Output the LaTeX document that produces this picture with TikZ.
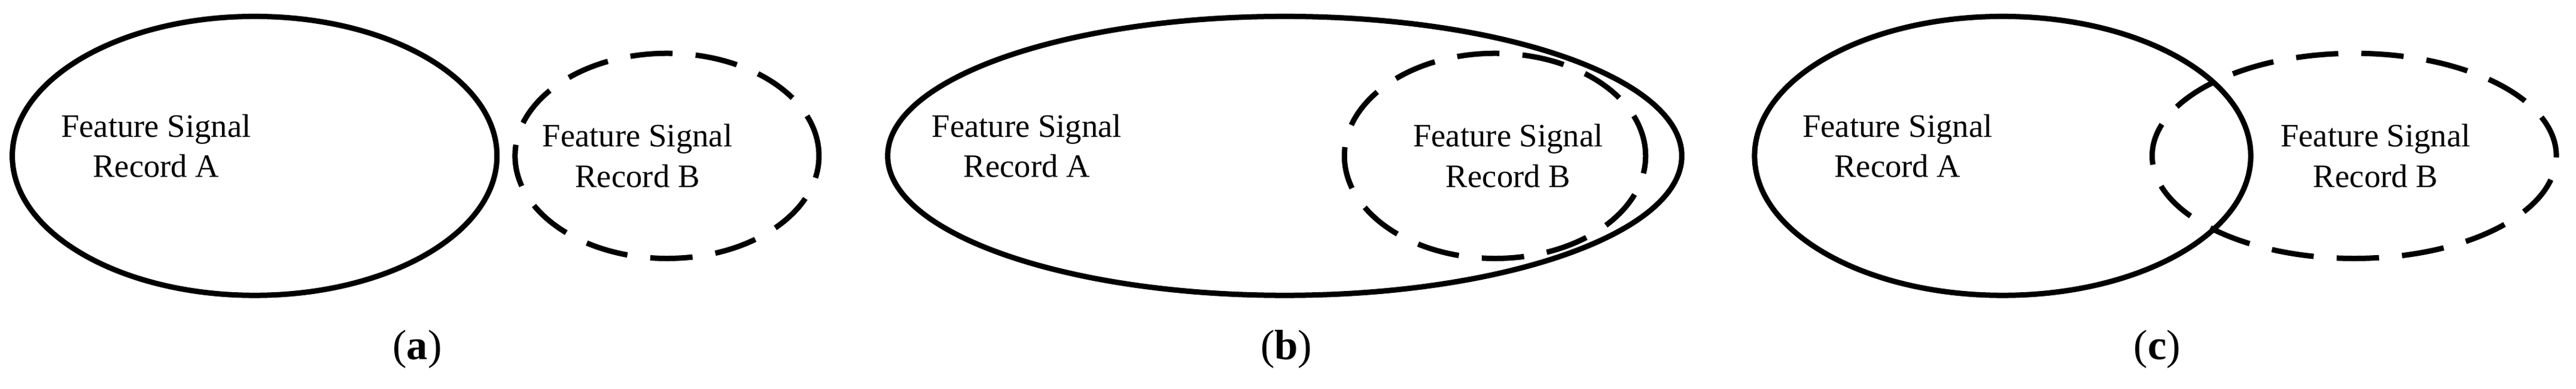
\documentclass[tikz,border=0pt]{standalone}
\usepackage{fontspec}
\setmainfont{Liberation Serif}
\usetikzlibrary{shapes.geometric}
\begin{document}
\begin{tikzpicture}[
    x=0.03cm, y=-0.03cm,
    record/.style={
        draw,
        ellipse,
        line width=2.8pt,
        inner sep=0pt
    },
    record b/.style={
        record,
        dash pattern=on 22pt off 12pt
    },
    record text/.style={
        align=center,
        inner sep=0pt,
        font=\fontsize{17}{21}\selectfont
    },
    caption/.style={
        font=\fontsize{22}{24}\selectfont
    },
    ]
    \useasboundingbox (0,0) rectangle (1568,237);
    % (a)
    \node [record, minimum width=8.85cm, minimum height=5.1cm] (ea) at (155,95) {};
    \node [record b, minimum width=5.55cm, minimum height=3.75cm] (eb) at (406,95) {};
    \node [record text] (ta) at (95,89) {Feature Signal\\Record A};
    \node [record text] (tb) at (388,95) {Feature Signal\\Record B};
    \node [caption] (ca) at (254,213) {(\textbf{a})};
    % (b)
    \node [record, minimum width=14.5cm, minimum height=5.1cm] (fa) at (782,95) {};
    \node [record b, minimum width=5.5cm, minimum height=3.75cm] (fb) at (910,95) {};
    \node [record text] (sa) at (625,89) {Feature Signal\\Record A};
    \node [record text] (sb) at (918,95) {Feature Signal\\Record B};
    \node [caption] (cb) at (783,213) {(\textbf{b})};
    % (c)
    \node [record, minimum width=9.06cm, minimum height=5.1cm] (ga) at (1219,95) {};
    \node [record b, minimum width=7.38cm, minimum height=3.75cm] (gb) at (1433,95) {};
    \node [record text] (ua) at (1155,89) {Feature Signal\\Record A};
    \node [record text] (ub) at (1446,95) {Feature Signal\\Record B};
    \node [caption] (cc) at (1313,213) {(\textbf{c})};
\end{tikzpicture}
\end{document}
